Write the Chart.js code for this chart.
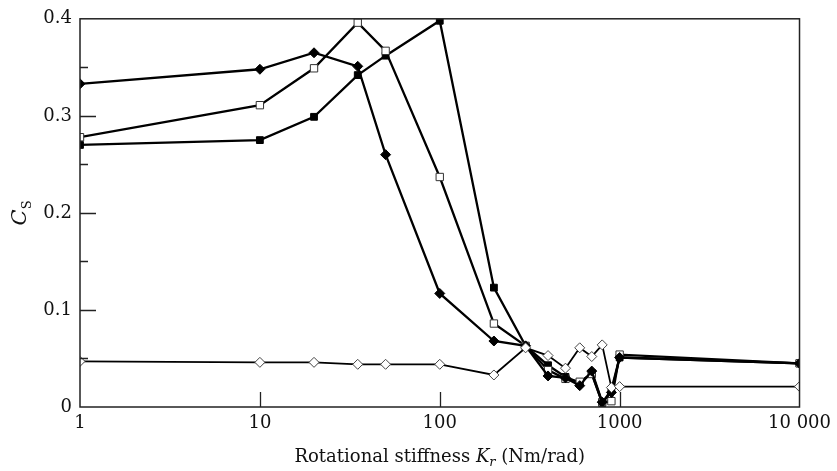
<!DOCTYPE html>
<html lang="en">
<head>
  <meta charset="UTF-8">
  <title>C_S vs rotational stiffness</title>
  <script src="https://cdn.jsdelivr.net/npm/chart.js"></script>
  <style>
    body {
      margin: 0;
      background: #fff;
    }
    .wrap {
      width: 837px;
      height: 471px;
      position: relative;
    }
  </style>
</head>
<body>
  <div class="wrap">
    <canvas id="csChart"></canvas>
  </div>

  <script>
    // stiffness values (Nm/rad), shared by all series
    const stiffness = [1, 10, 20, 35, 50, 100, 200, 300, 400, 500, 600, 700, 800, 900, 1000, 10000];

    const filledDiamond = [0.333, 0.348, 0.365, 0.351, 0.260, 0.117, 0.068, 0.063, 0.032, 0.030, 0.022, 0.037, 0.005, 0.015, 0.051, 0.045];
    const openSquare    = [0.278, 0.311, 0.349, 0.396, 0.367, 0.237, 0.086, 0.063, 0.038, 0.029, 0.026, 0.034, 0.005, 0.006, 0.054, 0.045];
    const filledSquare  = [0.270, 0.275, 0.299, 0.342, 0.362, 0.398, 0.123, 0.063, 0.043, 0.031, 0.025, 0.035, 0.004, 0.018, 0.051, 0.045];
    const openDiamond   = [0.047, 0.046, 0.046, 0.044, 0.044, 0.044, 0.033, 0.061, 0.053, 0.040, 0.061, 0.052, 0.064, 0.020, 0.021, 0.021];

    const xTicks = [1, 10, 100, 1000, 10000];
    const yMajor = [0, 0.1, 0.2, 0.3, 0.4];
    const yMinor = [0.05, 0.15, 0.25, 0.35];

    const FONT = "'DejaVu Serif', serif";

    const toPoints = vals => vals.map((v, i) => ({ x: stiffness[i], y: v }));

    // inward ticks, frame and the two axis titles
    const decorations = {
      id: 'decorations',
      afterDraw(chart) {
        const { ctx, chartArea: a, scales } = chart;
        const xs = scales.x, ys = scales.y;
        ctx.save();

        ctx.strokeStyle = '#222';
        ctx.lineWidth = 1.5;
        ctx.strokeRect(a.left, a.top, a.right - a.left, a.bottom - a.top);

        ctx.lineWidth = 1.3;
        ctx.beginPath();
        yMajor.slice(1, -1).forEach(v => {
          const y = Math.round(ys.getPixelForValue(v)) + 0.5;
          ctx.moveTo(a.left, y); ctx.lineTo(a.left + 16, y);
        });
        yMinor.forEach(v => {
          const y = Math.round(ys.getPixelForValue(v)) + 0.5;
          ctx.moveTo(a.left, y); ctx.lineTo(a.left + 8, y);
        });
        xTicks.slice(1, -1).forEach(v => {
          const x = Math.round(xs.getPixelForValue(v)) + 0.5;
          ctx.moveTo(x, a.bottom); ctx.lineTo(x, a.bottom - 15);
        });
        ctx.stroke();

        // x title: Rotational stiffness K_r (Nm/rad)
        ctx.fillStyle = '#111';
        ctx.textBaseline = 'alphabetic';
        ctx.textAlign = 'left';
        const parts = [
          { t: 'Rotational stiffness ', f: '18px ' + FONT, dy: 0 },
          { t: 'K', f: 'italic 18px ' + FONT, dy: 0 },
          { t: 'r', f: 'italic 13px ' + FONT, dy: 4 },
          { t: ' (Nm/rad)', f: '18px ' + FONT, dy: 0 }
        ];
        let total = 0;
        parts.forEach(p => { ctx.font = p.f; p.w = ctx.measureText(p.t).width; total += p.w; });
        let x = (a.left + a.right) / 2 - total / 2;
        parts.forEach(p => {
          ctx.font = p.f;
          ctx.fillText(p.t, x, 462 + p.dy);
          x += p.w;
        });

        // y title: C_S, rotated
        ctx.translate(26, (a.top + a.bottom) / 2);
        ctx.rotate(-Math.PI / 2);
        ctx.font = 'italic 21px ' + FONT;
        const cw = ctx.measureText('C').width;
        ctx.font = '13px ' + FONT;
        const sw = ctx.measureText('S').width;
        const start = -(cw + sw) / 2;
        ctx.font = 'italic 21px ' + FONT;
        ctx.fillText('C', start, 0);
        ctx.font = '13px ' + FONT;
        ctx.fillText('S', start + cw, 5);

        ctx.restore();
      }
    };

    const lineSet = (label, vals, style, radius, fill, border, width) => ({
      label,
      data: toPoints(vals),
      borderColor: '#000',
      borderWidth: width,
      pointStyle: style,
      pointRadius: radius,
      pointBackgroundColor: fill,
      pointBorderColor: border,
      pointBorderWidth: 1,
      tension: 0
    });

    new Chart(document.getElementById('csChart'), {
      type: 'line',
      data: {
        datasets: [
          lineSet('open diamond', openDiamond, 'rectRot', 5, '#fff', '#444', 1.8),
          lineSet('filled diamond', filledDiamond, 'rectRot', 5, '#000', '#000', 2.3),
          lineSet('open square', openSquare, 'rect', 5.2, '#fff', '#333', 2.3),
          lineSet('filled square', filledSquare, 'rect', 4.8, '#000', '#000', 2.3)
        ]
      },
      options: {
        responsive: true,
        maintainAspectRatio: false,
        animation: false,
        layout: { padding: { top: 18, right: 35, left: 0, bottom: 0 } },
        plugins: {
          legend: { display: false },
          tooltip: { enabled: false }
        },
        scales: {
          x: {
            type: 'logarithmic',
            min: 1,
            max: 10000,
            afterBuildTicks: s => { s.ticks = xTicks.map(v => ({ value: v })); },
            afterFit: s => { s.height = 64; },
            grid: { display: false, drawTicks: false },
            border: { display: false },
            ticks: {
              padding: 6,
              color: '#111',
              font: { family: FONT, size: 18 },
              maxRotation: 0,
              autoSkip: false,
              callback: v => v === 10000 ? '10 000' : String(v)
            }
          },
          y: {
            min: 0,
            max: 0.4,
            afterBuildTicks: s => { s.ticks = yMajor.map(v => ({ value: v })); },
            afterFit: s => { s.width = 80; },
            grid: { display: false, drawTicks: false },
            border: { display: false },
            ticks: {
              padding: 8,
              color: '#111',
              font: { family: FONT, size: 18 },
              callback: v => v === 0 ? '0' : v.toFixed(1)
            }
          }
        }
      },
      plugins: [decorations]
    });
  </script>
</body>
</html>
